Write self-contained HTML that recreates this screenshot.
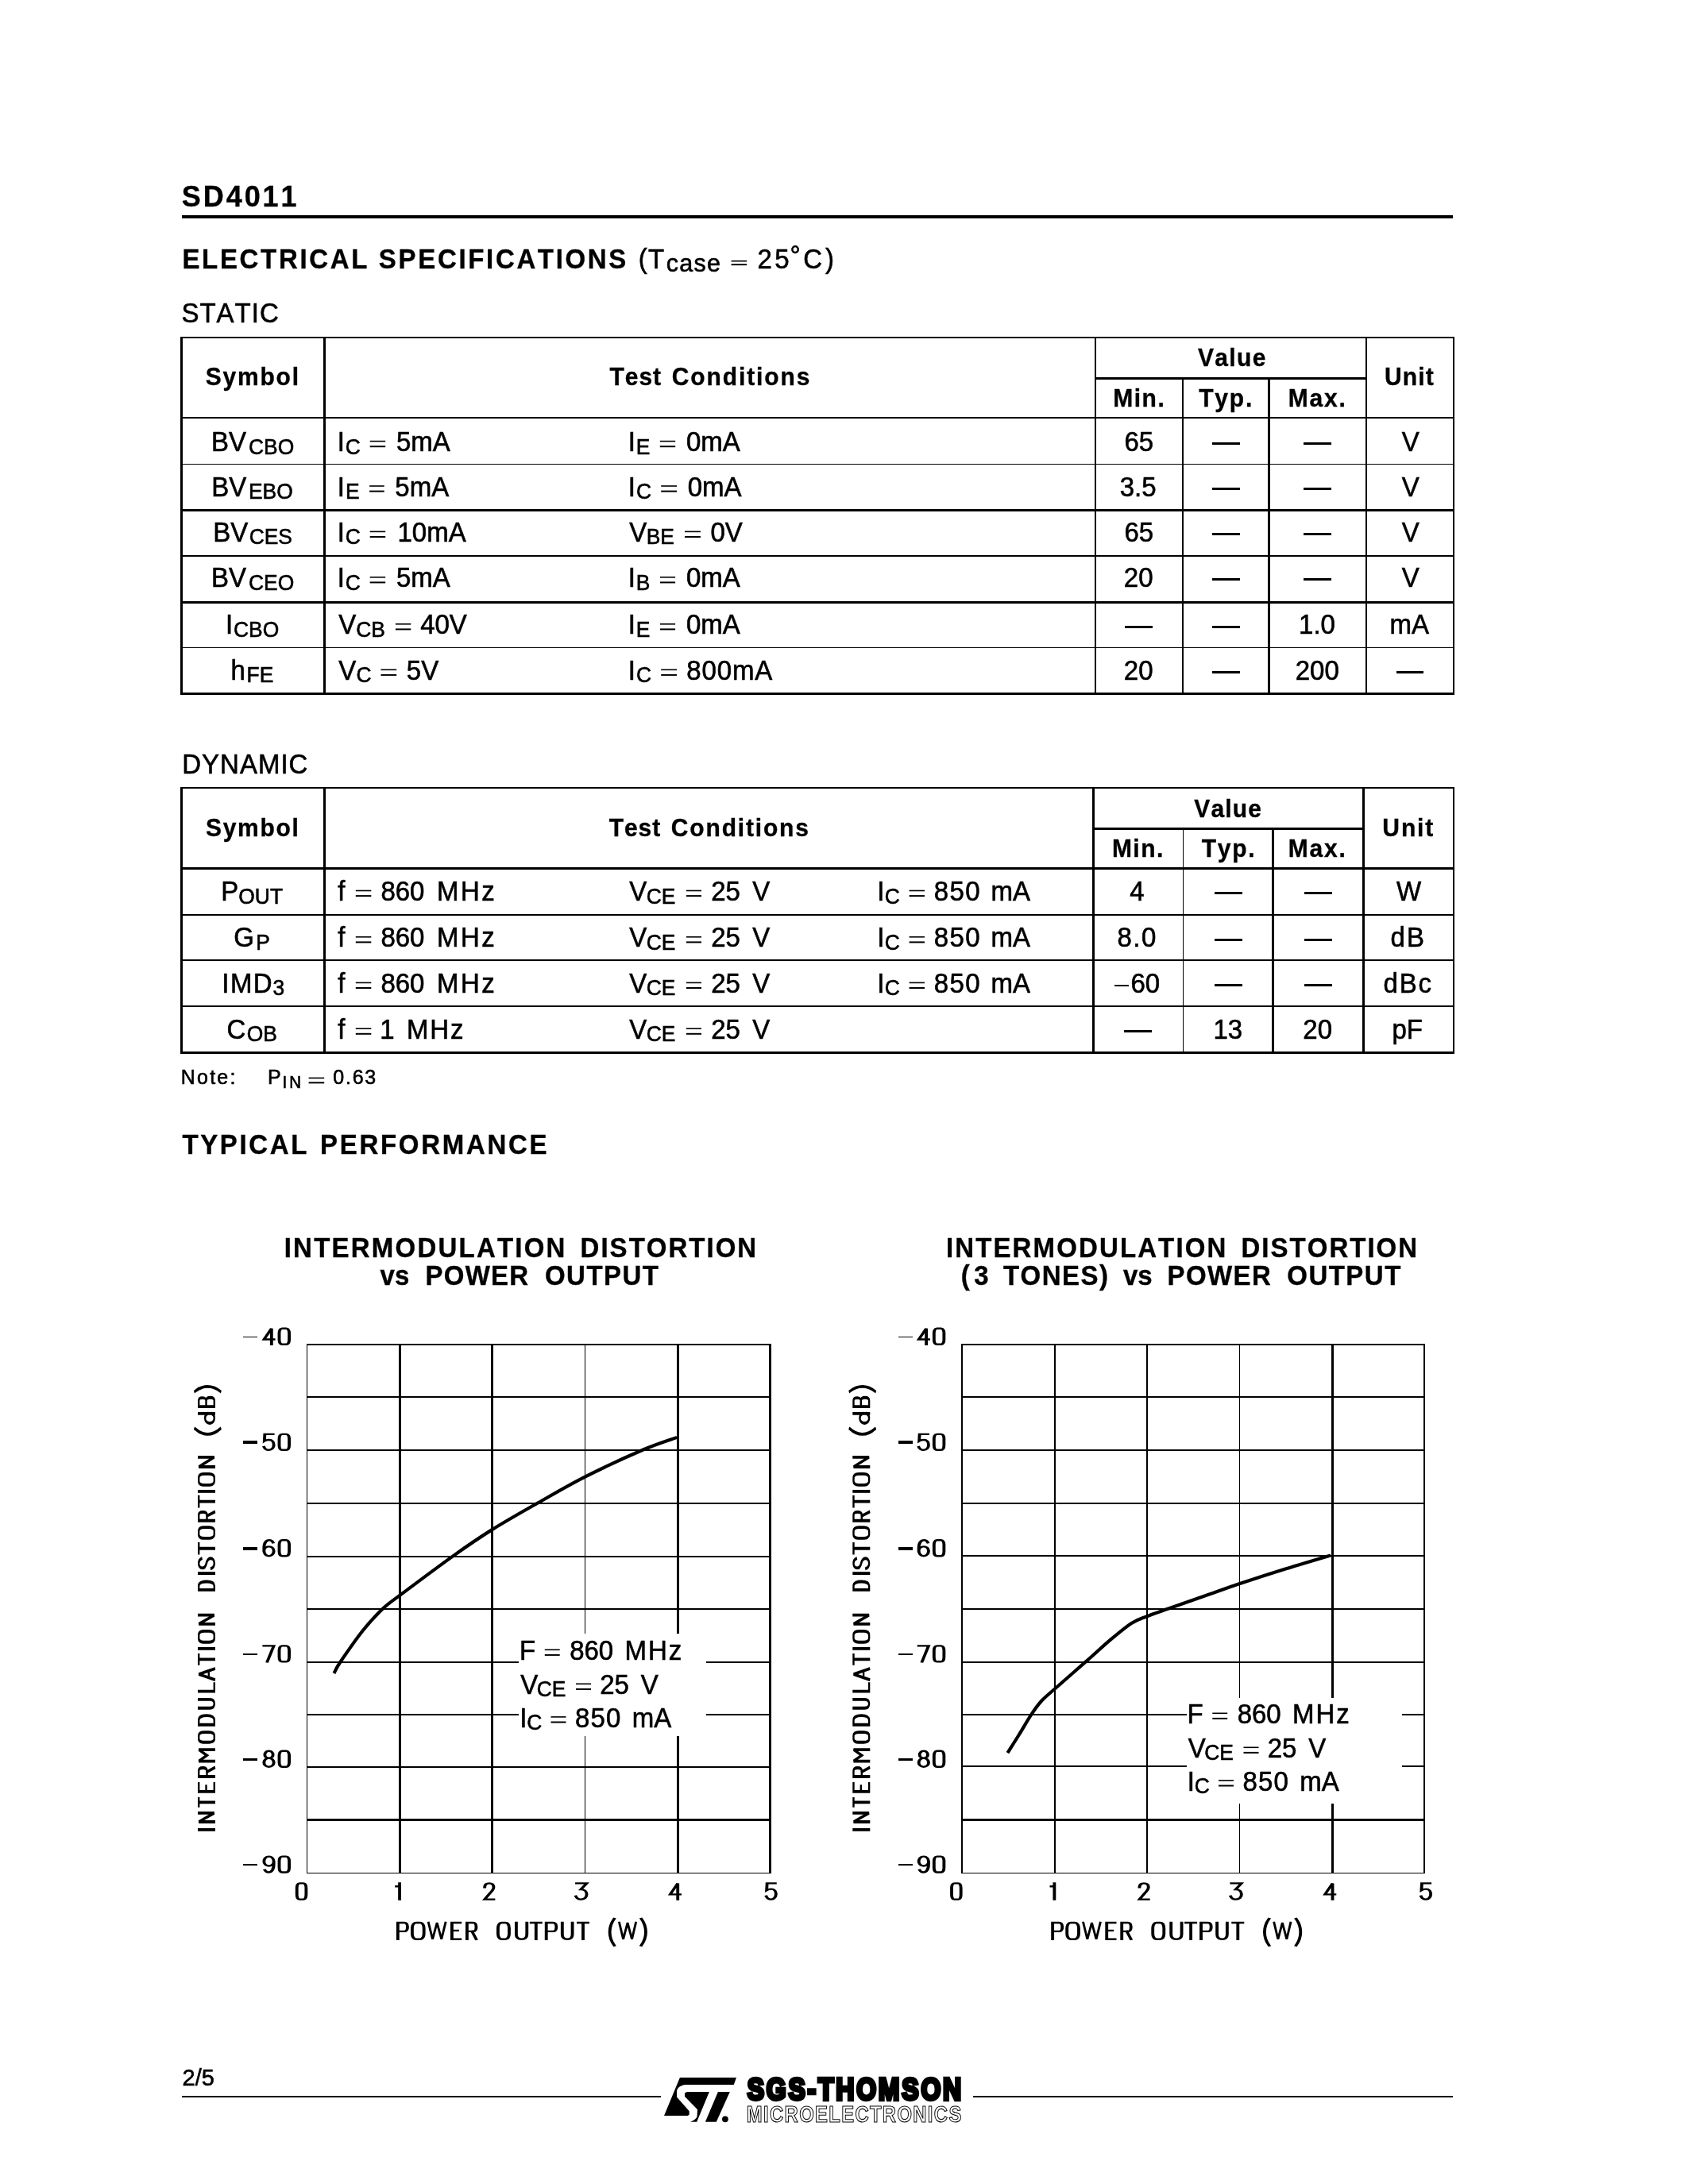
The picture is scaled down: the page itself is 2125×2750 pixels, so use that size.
<!DOCTYPE html>
<html><head><meta charset="utf-8"><title>SD4011</title>
<style>
html,body{margin:0;padding:0;background:#fff;}
svg{display:block;filter:grayscale(1);}
text{font-family:"Liberation Sans",sans-serif;fill:#000;font-kerning:none;white-space:pre;}
</style></head><body>
<svg width="2125" height="2750" viewBox="0 0 2125 2750">
<rect x="0" y="0" width="2125" height="2750" fill="#fff"/>
<text transform="translate(228.86,259.80) scale(1,1.0436)" font-size="36" font-weight="bold" letter-spacing="2.929" stroke="#000" stroke-width="0.35">SD4011</text>
<rect x="229.00" y="271.00" width="1600.00" height="4.00"/>
<text transform="translate(229.39,337.60) scale(1,1.0436)" font-size="33" font-weight="bold" letter-spacing="2.670" stroke="#000" stroke-width="0.35">ELECTRICAL SPECIFICATIONS</text>
<text transform="translate(803.85,337.60) scale(1,1.0436)" font-size="33" stroke="#000" stroke-width="0.6">(</text>
<text transform="translate(816.06,337.60) scale(1,1.0436)" font-size="33" stroke="#000" stroke-width="0.6">T</text>
<text transform="translate(838.80,341.60) scale(1,1.0436)" font-size="30.5" letter-spacing="1.242" stroke="#000" stroke-width="0.6">case</text>
<rect x="920.60" y="327.90" width="19.60" height="1.60"/>
<rect x="920.60" y="332.25" width="19.60" height="1.90"/>
<text transform="translate(953.54,337.60) scale(1,1.0436)" font-size="33" letter-spacing="3.239" stroke="#000" stroke-width="0.6">25</text>
<text transform="translate(994.43,334.20) scale(1,1.0436)" font-size="33" stroke="#000" stroke-width="0.6">°</text>
<text transform="translate(1011.32,337.60) scale(1,1.0436)" font-size="33" letter-spacing="3.801" stroke="#000" stroke-width="0.6">C)</text>
<text transform="translate(228.40,405.60) scale(1,1.0436)" font-size="33" letter-spacing="1.004" stroke="#000" stroke-width="0.6">STATIC</text>
<rect x="227.00" y="424.00" width="1604.00" height="2.00"/>
<rect x="227.00" y="525.00" width="1604.00" height="2.00"/>
<rect x="1378.00" y="475.00" width="343.00" height="3.00"/>
<rect x="227.00" y="584.00" width="1604.00" height="1.00"/>
<rect x="227.00" y="641.00" width="1604.00" height="3.00"/>
<rect x="227.00" y="699.00" width="1604.00" height="2.00"/>
<rect x="227.00" y="757.00" width="1604.00" height="3.00"/>
<rect x="227.00" y="815.00" width="1604.00" height="1.00"/>
<rect x="227.00" y="872.00" width="1604.00" height="3.00"/>
<rect x="227.00" y="424.00" width="3.00" height="451.00"/>
<rect x="407.00" y="424.00" width="3.00" height="451.00"/>
<rect x="1378.00" y="424.00" width="2.00" height="451.00"/>
<rect x="1488.00" y="475.00" width="2.00" height="400.00"/>
<rect x="1596.00" y="475.00" width="3.00" height="400.00"/>
<rect x="1719.00" y="424.00" width="2.00" height="451.00"/>
<rect x="1829.00" y="424.00" width="2.00" height="451.00"/>
<text transform="translate(258.84,485.10) scale(1,1.0436)" font-size="30" font-weight="bold" letter-spacing="1.767" stroke="#000" stroke-width="0.35">Symbol</text>
<text transform="translate(767.46,485.20) scale(1,1.0436)" font-size="30" font-weight="bold" letter-spacing="0.973" stroke="#000" stroke-width="0.35">Test</text>
<text transform="translate(845.67,485.20) scale(1,1.0436)" font-size="30" font-weight="bold" letter-spacing="1.914" stroke="#000" stroke-width="0.35">Conditions</text>
<text transform="translate(1507.99,460.60) scale(1,1.0436)" font-size="30" font-weight="bold" letter-spacing="1.323" stroke="#000" stroke-width="0.35">Value</text>
<text transform="translate(1401.29,511.50) scale(1,1.0436)" font-size="30" font-weight="bold" letter-spacing="1.496" stroke="#000" stroke-width="0.35">Min.</text>
<text transform="translate(1509.26,511.50) scale(1,1.0436)" font-size="30" font-weight="bold" letter-spacing="1.777" stroke="#000" stroke-width="0.35">Typ.</text>
<text transform="translate(1621.79,511.50) scale(1,1.0436)" font-size="30" font-weight="bold" letter-spacing="1.793" stroke="#000" stroke-width="0.35">Max.</text>
<text transform="translate(1743.00,484.60) scale(1,1.0436)" font-size="30" font-weight="bold" letter-spacing="1.151" stroke="#000" stroke-width="0.35">Unit</text>
<text transform="translate(266.01,568.20) scale(1,1.0436)" font-size="33" stroke="#000" stroke-width="0.6">BV</text>
<text transform="translate(313.01,571.60) scale(1,1.0436)" font-size="26.4" stroke="#000" stroke-width="0.6">CBO</text>
<text transform="translate(266.36,624.60) scale(1,1.0436)" font-size="33" stroke="#000" stroke-width="0.6">BV</text>
<text transform="translate(312.97,628.00) scale(1,1.0436)" font-size="26.4" stroke="#000" stroke-width="0.6">EBO</text>
<text transform="translate(268.36,682.00) scale(1,1.0436)" font-size="33" stroke="#000" stroke-width="0.6">BV</text>
<text transform="translate(313.69,685.40) scale(1,1.0436)" font-size="26.4" stroke="#000" stroke-width="0.6">CES</text>
<text transform="translate(266.01,739.40) scale(1,1.0436)" font-size="33" stroke="#000" stroke-width="0.6">BV</text>
<text transform="translate(313.01,742.80) scale(1,1.0436)" font-size="26.4" stroke="#000" stroke-width="0.6">CEO</text>
<text transform="translate(283.95,798.40) scale(1,1.0436)" font-size="33" stroke="#000" stroke-width="0.6">I</text>
<text transform="translate(294.01,801.80) scale(1,1.0436)" font-size="26.4" stroke="#000" stroke-width="0.6">CBO</text>
<text transform="translate(290.61,855.90) scale(1,1.0436)" font-size="33" stroke="#000" stroke-width="0.6">h</text>
<text transform="translate(310.62,859.30) scale(1,1.0436)" font-size="26.4" stroke="#000" stroke-width="0.6">FE</text>
<text transform="translate(424.75,568.20) scale(1,1.0436)" font-size="33" stroke="#000" stroke-width="0.6">I</text>
<text transform="translate(434.85,571.60) scale(1,1.0436)" font-size="26.4" stroke="#000" stroke-width="0.6">C</text>
<rect x="465.70" y="554.80" width="19.50" height="1.60"/>
<rect x="465.70" y="561.20" width="19.50" height="2.00"/>
<text transform="translate(499.00,568.20) scale(1,1.0436)" font-size="33" stroke="#000" stroke-width="0.6">5mA</text>
<text transform="translate(424.75,624.60) scale(1,1.0436)" font-size="33" stroke="#000" stroke-width="0.6">I</text>
<text transform="translate(434.88,628.00) scale(1,1.0436)" font-size="26.4" stroke="#000" stroke-width="0.6">E</text>
<rect x="465.10" y="611.20" width="18.60" height="1.60"/>
<rect x="465.10" y="617.60" width="18.60" height="2.00"/>
<text transform="translate(497.35,624.60) scale(1,1.0436)" font-size="33" stroke="#000" stroke-width="0.6">5mA</text>
<text transform="translate(424.75,682.00) scale(1,1.0436)" font-size="33" stroke="#000" stroke-width="0.6">I</text>
<text transform="translate(434.85,685.40) scale(1,1.0436)" font-size="26.4" stroke="#000" stroke-width="0.6">C</text>
<rect x="465.70" y="668.60" width="19.50" height="1.60"/>
<rect x="465.70" y="675.00" width="19.50" height="2.00"/>
<text transform="translate(500.52,682.00) scale(1,1.0436)" font-size="33" stroke="#000" stroke-width="0.6">10mA</text>
<text transform="translate(424.75,739.40) scale(1,1.0436)" font-size="33" stroke="#000" stroke-width="0.6">I</text>
<text transform="translate(434.85,742.80) scale(1,1.0436)" font-size="26.4" stroke="#000" stroke-width="0.6">C</text>
<rect x="465.70" y="726.00" width="19.50" height="1.60"/>
<rect x="465.70" y="732.40" width="19.50" height="2.00"/>
<text transform="translate(499.00,739.40) scale(1,1.0436)" font-size="33" stroke="#000" stroke-width="0.6">5mA</text>
<text transform="translate(426.35,798.40) scale(1,1.0436)" font-size="33" stroke="#000" stroke-width="0.6">V</text>
<text transform="translate(448.24,801.80) scale(1,1.0436)" font-size="26.4" stroke="#000" stroke-width="0.6">CB</text>
<rect x="497.90" y="785.00" width="19.40" height="1.60"/>
<rect x="497.90" y="791.40" width="19.40" height="2.00"/>
<text transform="translate(529.14,798.40) scale(1,1.0436)" font-size="33" stroke="#000" stroke-width="0.6">40V</text>
<text transform="translate(426.35,855.90) scale(1,1.0436)" font-size="33" stroke="#000" stroke-width="0.6">V</text>
<text transform="translate(448.40,859.30) scale(1,1.0436)" font-size="26.4" stroke="#000" stroke-width="0.6">C</text>
<rect x="479.50" y="842.50" width="19.70" height="1.60"/>
<rect x="479.50" y="848.90" width="19.70" height="2.00"/>
<text transform="translate(511.78,855.90) scale(1,1.0436)" font-size="33" stroke="#000" stroke-width="0.6">5V</text>
<text transform="translate(790.85,568.20) scale(1,1.0436)" font-size="33" stroke="#000" stroke-width="0.6">I</text>
<text transform="translate(800.63,571.60) scale(1,1.0436)" font-size="26.4" stroke="#000" stroke-width="0.6">E</text>
<rect x="830.80" y="554.80" width="19.40" height="1.60"/>
<rect x="830.80" y="561.20" width="19.40" height="2.00"/>
<text transform="translate(863.96,568.20) scale(1,1.0436)" font-size="33" stroke="#000" stroke-width="0.6">0mA</text>
<text transform="translate(790.85,624.60) scale(1,1.0436)" font-size="33" stroke="#000" stroke-width="0.6">I</text>
<text transform="translate(800.95,628.00) scale(1,1.0436)" font-size="26.4" stroke="#000" stroke-width="0.6">C</text>
<rect x="832.20" y="611.20" width="19.90" height="1.60"/>
<rect x="832.20" y="617.60" width="19.90" height="2.00"/>
<text transform="translate(865.76,624.60) scale(1,1.0436)" font-size="33" stroke="#000" stroke-width="0.6">0mA</text>
<text transform="translate(792.25,682.00) scale(1,1.0436)" font-size="33" stroke="#000" stroke-width="0.6">V</text>
<text transform="translate(813.63,685.40) scale(1,1.0436)" font-size="26.4" stroke="#000" stroke-width="0.6">BE</text>
<rect x="862.00" y="668.60" width="19.90" height="1.60"/>
<rect x="862.00" y="675.00" width="19.90" height="2.00"/>
<text transform="translate(894.50,682.00) scale(1,1.0436)" font-size="33" stroke="#000" stroke-width="0.6">0V</text>
<text transform="translate(790.85,739.40) scale(1,1.0436)" font-size="33" stroke="#000" stroke-width="0.6">I</text>
<text transform="translate(800.81,742.80) scale(1,1.0436)" font-size="26.4" stroke="#000" stroke-width="0.6">B</text>
<rect x="830.90" y="726.00" width="19.20" height="1.60"/>
<rect x="830.90" y="732.40" width="19.20" height="2.00"/>
<text transform="translate(863.91,739.40) scale(1,1.0436)" font-size="33" stroke="#000" stroke-width="0.6">0mA</text>
<text transform="translate(790.85,798.40) scale(1,1.0436)" font-size="33" stroke="#000" stroke-width="0.6">I</text>
<text transform="translate(800.63,801.80) scale(1,1.0436)" font-size="26.4" stroke="#000" stroke-width="0.6">E</text>
<rect x="830.90" y="785.00" width="19.20" height="1.60"/>
<rect x="830.90" y="791.40" width="19.20" height="2.00"/>
<text transform="translate(863.91,798.40) scale(1,1.0436)" font-size="33" stroke="#000" stroke-width="0.6">0mA</text>
<text transform="translate(790.85,855.90) scale(1,1.0436)" font-size="33" stroke="#000" stroke-width="0.6">I</text>
<text transform="translate(800.95,859.30) scale(1,1.0436)" font-size="26.4" stroke="#000" stroke-width="0.6">C</text>
<rect x="832.20" y="842.50" width="19.90" height="1.60"/>
<rect x="832.20" y="848.90" width="19.90" height="2.00"/>
<text transform="translate(864.27,855.90) scale(1,1.0436)" font-size="33" letter-spacing="0.885" stroke="#000" stroke-width="0.6">800mA</text>
<text transform="translate(1415.40,568.20) scale(1,1.0436)" font-size="33" stroke="#000" stroke-width="0.6">65</text>
<rect x="1526.00" y="557.00" width="35.00" height="3.00"/>
<rect x="1641.00" y="557.00" width="35.00" height="3.00"/>
<text transform="translate(1764.84,568.20) scale(1,1.0436)" font-size="33" stroke="#000" stroke-width="0.6">V</text>
<text transform="translate(1409.73,624.60) scale(1,1.0436)" font-size="33" stroke="#000" stroke-width="0.6">3.5</text>
<rect x="1526.00" y="614.00" width="35.00" height="3.00"/>
<rect x="1641.00" y="614.00" width="35.00" height="3.00"/>
<text transform="translate(1764.84,624.60) scale(1,1.0436)" font-size="33" stroke="#000" stroke-width="0.6">V</text>
<text transform="translate(1415.40,682.00) scale(1,1.0436)" font-size="33" stroke="#000" stroke-width="0.6">65</text>
<rect x="1526.00" y="671.00" width="35.00" height="3.00"/>
<rect x="1641.00" y="671.00" width="35.00" height="3.00"/>
<text transform="translate(1764.84,682.00) scale(1,1.0436)" font-size="33" stroke="#000" stroke-width="0.6">V</text>
<text transform="translate(1414.81,739.40) scale(1,1.0436)" font-size="33" stroke="#000" stroke-width="0.6">20</text>
<rect x="1526.00" y="728.00" width="35.00" height="3.00"/>
<rect x="1641.00" y="728.00" width="35.00" height="3.00"/>
<text transform="translate(1764.84,739.40) scale(1,1.0436)" font-size="33" stroke="#000" stroke-width="0.6">V</text>
<rect x="1416.00" y="788.00" width="35.00" height="3.00"/>
<rect x="1526.00" y="788.00" width="35.00" height="3.00"/>
<text transform="translate(1635.05,798.40) scale(1,1.0436)" font-size="33" stroke="#000" stroke-width="0.6">1.0</text>
<text transform="translate(1749.49,798.40) scale(1,1.0436)" font-size="33" stroke="#000" stroke-width="0.6">mA</text>
<text transform="translate(1414.81,855.90) scale(1,1.0436)" font-size="33" stroke="#000" stroke-width="0.6">20</text>
<rect x="1526.00" y="845.00" width="35.00" height="3.00"/>
<text transform="translate(1630.74,855.90) scale(1,1.0436)" font-size="33" stroke="#000" stroke-width="0.6">200</text>
<rect x="1758.00" y="845.00" width="34.00" height="3.00"/>
<text transform="translate(229.19,974.00) scale(1,1.0436)" font-size="33" letter-spacing="1.015" stroke="#000" stroke-width="0.6">DYNAMIC</text>
<rect x="227.00" y="991.00" width="1604.00" height="2.00"/>
<rect x="227.00" y="1092.00" width="1604.00" height="3.00"/>
<rect x="1375.00" y="1042.00" width="343.00" height="3.00"/>
<rect x="227.00" y="1151.00" width="1604.00" height="2.00"/>
<rect x="227.00" y="1208.00" width="1604.00" height="2.00"/>
<rect x="227.00" y="1266.00" width="1604.00" height="2.00"/>
<rect x="227.00" y="1324.00" width="1604.00" height="3.00"/>
<rect x="227.00" y="991.00" width="3.00" height="336.00"/>
<rect x="407.00" y="991.00" width="3.00" height="336.00"/>
<rect x="1375.00" y="991.00" width="3.00" height="336.00"/>
<rect x="1489.00" y="1042.00" width="1.00" height="285.00"/>
<rect x="1601.00" y="1042.00" width="3.00" height="285.00"/>
<rect x="1715.00" y="991.00" width="3.00" height="336.00"/>
<rect x="1829.00" y="991.00" width="2.00" height="336.00"/>
<text transform="translate(258.94,1053.00) scale(1,1.0436)" font-size="30" font-weight="bold" letter-spacing="1.727" stroke="#000" stroke-width="0.35">Symbol</text>
<text transform="translate(766.66,1052.60) scale(1,1.0436)" font-size="30" font-weight="bold" letter-spacing="0.973" stroke="#000" stroke-width="0.35">Test</text>
<text transform="translate(844.87,1052.60) scale(1,1.0436)" font-size="30" font-weight="bold" letter-spacing="1.825" stroke="#000" stroke-width="0.35">Conditions</text>
<text transform="translate(1503.29,1028.70) scale(1,1.0436)" font-size="30" font-weight="bold" letter-spacing="1.123" stroke="#000" stroke-width="0.35">Value</text>
<text transform="translate(1399.89,1079.40) scale(1,1.0436)" font-size="30" font-weight="bold" letter-spacing="1.496" stroke="#000" stroke-width="0.35">Min.</text>
<text transform="translate(1512.66,1079.40) scale(1,1.0436)" font-size="30" font-weight="bold" letter-spacing="1.777" stroke="#000" stroke-width="0.35">Typ.</text>
<text transform="translate(1621.79,1079.40) scale(1,1.0436)" font-size="30" font-weight="bold" letter-spacing="1.793" stroke="#000" stroke-width="0.35">Max.</text>
<text transform="translate(1740.30,1053.00) scale(1,1.0436)" font-size="30" font-weight="bold" letter-spacing="1.918" stroke="#000" stroke-width="0.35">Unit</text>
<text transform="translate(278.29,1134.10) scale(1,1.0436)" font-size="33" stroke="#000" stroke-width="0.6">P</text>
<text transform="translate(300.31,1137.50) scale(1,1.0436)" font-size="26.4" stroke="#000" stroke-width="0.6">OUT</text>
<text transform="translate(294.34,1192.40) scale(1,1.0436)" font-size="33" stroke="#000" stroke-width="0.6">G</text>
<text transform="translate(322.31,1195.80) scale(1,1.0436)" font-size="26.4" stroke="#000" stroke-width="0.6">P</text>
<text transform="translate(279.35,1250.00) scale(1,1.0436)" font-size="33" letter-spacing="1.418" stroke="#000" stroke-width="0.6">IMD</text>
<text transform="translate(343.54,1253.40) scale(1,1.0436)" font-size="26.4" stroke="#000" stroke-width="0.6">3</text>
<text transform="translate(285.42,1307.80) scale(1,1.0436)" font-size="33" stroke="#000" stroke-width="0.6">C</text>
<text transform="translate(310.75,1311.20) scale(1,1.0436)" font-size="26.4" stroke="#000" stroke-width="0.6">OB</text>
<text transform="translate(425.23,1134.10) scale(1,1.0436)" font-size="33" stroke="#000" stroke-width="0.6">f</text>
<rect x="447.80" y="1120.70" width="19.50" height="1.60"/>
<rect x="447.80" y="1127.10" width="19.50" height="2.00"/>
<text transform="translate(479.40,1134.10) scale(1,1.0436)" font-size="33" stroke="#000" stroke-width="0.6">860</text>
<text transform="translate(550.09,1134.10) scale(1,1.0436)" font-size="33" letter-spacing="2.365" stroke="#000" stroke-width="0.6">MHz</text>
<text transform="translate(425.23,1192.40) scale(1,1.0436)" font-size="33" stroke="#000" stroke-width="0.6">f</text>
<rect x="447.80" y="1179.00" width="19.50" height="1.60"/>
<rect x="447.80" y="1185.40" width="19.50" height="2.00"/>
<text transform="translate(479.40,1192.40) scale(1,1.0436)" font-size="33" stroke="#000" stroke-width="0.6">860</text>
<text transform="translate(550.09,1192.40) scale(1,1.0436)" font-size="33" letter-spacing="2.365" stroke="#000" stroke-width="0.6">MHz</text>
<text transform="translate(425.23,1250.00) scale(1,1.0436)" font-size="33" stroke="#000" stroke-width="0.6">f</text>
<rect x="447.80" y="1236.60" width="19.50" height="1.60"/>
<rect x="447.80" y="1243.00" width="19.50" height="2.00"/>
<text transform="translate(479.40,1250.00) scale(1,1.0436)" font-size="33" stroke="#000" stroke-width="0.6">860</text>
<text transform="translate(550.09,1250.00) scale(1,1.0436)" font-size="33" letter-spacing="2.365" stroke="#000" stroke-width="0.6">MHz</text>
<text transform="translate(425.23,1307.80) scale(1,1.0436)" font-size="33" stroke="#000" stroke-width="0.6">f</text>
<rect x="447.80" y="1294.40" width="19.50" height="1.60"/>
<rect x="447.80" y="1300.80" width="19.50" height="2.00"/>
<text transform="translate(478.27,1307.80) scale(1,1.0436)" font-size="33" stroke="#000" stroke-width="0.6">1</text>
<text transform="translate(511.89,1307.80) scale(1,1.0436)" font-size="33" letter-spacing="1.865" stroke="#000" stroke-width="0.6">MHz</text>
<text transform="translate(792.15,1134.10) scale(1,1.0436)" font-size="33" stroke="#000" stroke-width="0.6">V</text>
<text transform="translate(813.76,1137.50) scale(1,1.0436)" font-size="26.4" stroke="#000" stroke-width="0.6">CE</text>
<rect x="863.90" y="1120.70" width="19.10" height="1.60"/>
<rect x="863.90" y="1127.10" width="19.10" height="2.00"/>
<text transform="translate(895.21,1134.10) scale(1,1.0436)" font-size="33" stroke="#000" stroke-width="0.6">25</text>
<text transform="translate(947.15,1134.10) scale(1,1.0436)" font-size="33" stroke="#000" stroke-width="0.6">V</text>
<text transform="translate(792.15,1192.40) scale(1,1.0436)" font-size="33" stroke="#000" stroke-width="0.6">V</text>
<text transform="translate(813.76,1195.80) scale(1,1.0436)" font-size="26.4" stroke="#000" stroke-width="0.6">CE</text>
<rect x="863.90" y="1179.00" width="19.10" height="1.60"/>
<rect x="863.90" y="1185.40" width="19.10" height="2.00"/>
<text transform="translate(895.21,1192.40) scale(1,1.0436)" font-size="33" stroke="#000" stroke-width="0.6">25</text>
<text transform="translate(947.15,1192.40) scale(1,1.0436)" font-size="33" stroke="#000" stroke-width="0.6">V</text>
<text transform="translate(792.15,1250.00) scale(1,1.0436)" font-size="33" stroke="#000" stroke-width="0.6">V</text>
<text transform="translate(813.76,1253.40) scale(1,1.0436)" font-size="26.4" stroke="#000" stroke-width="0.6">CE</text>
<rect x="863.90" y="1236.60" width="19.10" height="1.60"/>
<rect x="863.90" y="1243.00" width="19.10" height="2.00"/>
<text transform="translate(895.21,1250.00) scale(1,1.0436)" font-size="33" stroke="#000" stroke-width="0.6">25</text>
<text transform="translate(947.15,1250.00) scale(1,1.0436)" font-size="33" stroke="#000" stroke-width="0.6">V</text>
<text transform="translate(792.15,1307.80) scale(1,1.0436)" font-size="33" stroke="#000" stroke-width="0.6">V</text>
<text transform="translate(813.76,1311.20) scale(1,1.0436)" font-size="26.4" stroke="#000" stroke-width="0.6">CE</text>
<rect x="863.90" y="1294.40" width="19.10" height="1.60"/>
<rect x="863.90" y="1300.80" width="19.10" height="2.00"/>
<text transform="translate(895.21,1307.80) scale(1,1.0436)" font-size="33" stroke="#000" stroke-width="0.6">25</text>
<text transform="translate(947.15,1307.80) scale(1,1.0436)" font-size="33" stroke="#000" stroke-width="0.6">V</text>
<text transform="translate(1104.25,1134.10) scale(1,1.0436)" font-size="33" stroke="#000" stroke-width="0.6">I</text>
<text transform="translate(1113.86,1137.50) scale(1,1.0436)" font-size="26.4" stroke="#000" stroke-width="0.6">C</text>
<rect x="1144.60" y="1120.70" width="19.40" height="1.60"/>
<rect x="1144.60" y="1127.10" width="19.40" height="2.00"/>
<text transform="translate(1175.87,1134.10) scale(1,1.0436)" font-size="33" letter-spacing="1.332" stroke="#000" stroke-width="0.6">850</text>
<text transform="translate(1247.49,1134.10) scale(1,1.0436)" font-size="33" stroke="#000" stroke-width="0.6">mA</text>
<text transform="translate(1104.25,1192.40) scale(1,1.0436)" font-size="33" stroke="#000" stroke-width="0.6">I</text>
<text transform="translate(1113.86,1195.80) scale(1,1.0436)" font-size="26.4" stroke="#000" stroke-width="0.6">C</text>
<rect x="1144.60" y="1179.00" width="19.40" height="1.60"/>
<rect x="1144.60" y="1185.40" width="19.40" height="2.00"/>
<text transform="translate(1175.87,1192.40) scale(1,1.0436)" font-size="33" letter-spacing="1.332" stroke="#000" stroke-width="0.6">850</text>
<text transform="translate(1247.49,1192.40) scale(1,1.0436)" font-size="33" stroke="#000" stroke-width="0.6">mA</text>
<text transform="translate(1104.25,1250.00) scale(1,1.0436)" font-size="33" stroke="#000" stroke-width="0.6">I</text>
<text transform="translate(1113.86,1253.40) scale(1,1.0436)" font-size="26.4" stroke="#000" stroke-width="0.6">C</text>
<rect x="1144.60" y="1236.60" width="19.40" height="1.60"/>
<rect x="1144.60" y="1243.00" width="19.40" height="2.00"/>
<text transform="translate(1175.87,1250.00) scale(1,1.0436)" font-size="33" letter-spacing="1.332" stroke="#000" stroke-width="0.6">850</text>
<text transform="translate(1247.49,1250.00) scale(1,1.0436)" font-size="33" stroke="#000" stroke-width="0.6">mA</text>
<text transform="translate(1422.18,1134.10) scale(1,1.0436)" font-size="33" stroke="#000" stroke-width="0.6">4</text>
<rect x="1529.00" y="1123.00" width="35.00" height="3.00"/>
<rect x="1642.00" y="1123.00" width="35.00" height="3.00"/>
<text transform="translate(1758.11,1134.10) scale(1,1.0436)" font-size="33" stroke="#000" stroke-width="0.6">W</text>
<text transform="translate(1406.57,1192.40) scale(1,1.0436)" font-size="33" letter-spacing="1.424" stroke="#000" stroke-width="0.6">8.0</text>
<rect x="1529.00" y="1182.00" width="35.00" height="3.00"/>
<rect x="1642.00" y="1182.00" width="35.00" height="3.00"/>
<text transform="translate(1750.51,1192.40) scale(1,1.0436)" font-size="33" letter-spacing="2.262" stroke="#000" stroke-width="0.6">dB</text>
<rect x="1403.00" y="1240.00" width="18.00" height="2.00"/>
<text transform="translate(1423.40,1250.00) scale(1,1.0436)" font-size="33" stroke="#000" stroke-width="0.6">60</text>
<rect x="1529.00" y="1239.00" width="35.00" height="3.00"/>
<rect x="1642.00" y="1239.00" width="35.00" height="3.00"/>
<text transform="translate(1741.51,1250.00) scale(1,1.0436)" font-size="33" letter-spacing="1.846" stroke="#000" stroke-width="0.6">dBc</text>
<rect x="1415.00" y="1297.00" width="35.00" height="3.00"/>
<text transform="translate(1527.52,1307.80) scale(1,1.0436)" font-size="33" stroke="#000" stroke-width="0.6">13</text>
<text transform="translate(1640.31,1307.80) scale(1,1.0436)" font-size="33" stroke="#000" stroke-width="0.6">20</text>
<text transform="translate(1752.39,1307.80) scale(1,1.0436)" font-size="33" stroke="#000" stroke-width="0.6">pF</text>
<text transform="translate(227.75,1364.90) scale(1,1.0436)" font-size="25" letter-spacing="2.220" stroke="#000" stroke-width="0.6">Note:</text>
<text transform="translate(336.90,1364.90) scale(1,1.0436)" font-size="25" stroke="#000" stroke-width="0.6">P</text>
<text transform="translate(355.61,1370.40) scale(1,1.0436)" font-size="20.5" letter-spacing="2.963" stroke="#000" stroke-width="0.6">IN</text>
<rect x="388.60" y="1356.60" width="19.60" height="1.60"/>
<rect x="388.60" y="1362.30" width="19.60" height="2.00"/>
<text transform="translate(419.32,1364.90) scale(1,1.0436)" font-size="25" letter-spacing="1.739" stroke="#000" stroke-width="0.6">0.63</text>
<text transform="translate(229.43,1452.80) scale(1,1.0436)" font-size="33" font-weight="bold" letter-spacing="2.636" stroke="#000" stroke-width="0.35">TYPICAL</text>
<text transform="translate(402.99,1452.80) scale(1,1.0436)" font-size="33" font-weight="bold" letter-spacing="2.719" stroke="#000" stroke-width="0.35">PERFORMANCE</text>
<text transform="translate(357.69,1583.30) scale(1,1.0436)" font-size="33" font-weight="bold" letter-spacing="2.228" stroke="#000" stroke-width="0.35">INTERMODULATION</text>
<text transform="translate(730.59,1583.30) scale(1,1.0436)" font-size="33" font-weight="bold" letter-spacing="2.015" stroke="#000" stroke-width="0.35">DISTORTION</text>
<text transform="translate(478.56,1617.90) scale(1,1.0436)" font-size="33" font-weight="bold" stroke="#000" stroke-width="0.35">vs</text>
<text transform="translate(535.59,1617.90) scale(1,1.0436)" font-size="33" font-weight="bold" letter-spacing="1.229" stroke="#000" stroke-width="0.35">POWER</text>
<text transform="translate(685.95,1617.90) scale(1,1.0436)" font-size="33" font-weight="bold" letter-spacing="1.490" stroke="#000" stroke-width="0.35">OUTPUT</text>
<text transform="translate(1190.89,1583.30) scale(1,1.0436)" font-size="33" font-weight="bold" letter-spacing="2.135" stroke="#000" stroke-width="0.35">INTERMODULATION</text>
<text transform="translate(1562.49,1583.30) scale(1,1.0436)" font-size="33" font-weight="bold" letter-spacing="2.015" stroke="#000" stroke-width="0.35">DISTORTION</text>
<text transform="translate(1209.66,1617.90) scale(1,1.0436)" font-size="33" font-weight="bold" letter-spacing="5.694" stroke="#000" stroke-width="0.35">(3</text>
<text transform="translate(1262.93,1617.90) scale(1,1.0436)" font-size="33" font-weight="bold" letter-spacing="1.469" stroke="#000" stroke-width="0.35">TONES)</text>
<text transform="translate(1413.91,1617.90) scale(1,1.0436)" font-size="33" font-weight="bold" stroke="#000" stroke-width="0.35">vs</text>
<text transform="translate(1469.59,1617.90) scale(1,1.0436)" font-size="33" font-weight="bold" letter-spacing="1.404" stroke="#000" stroke-width="0.35">POWER</text>
<text transform="translate(1620.25,1617.90) scale(1,1.0436)" font-size="33" font-weight="bold" letter-spacing="1.490" stroke="#000" stroke-width="0.35">OUTPUT</text>
<rect x="386.00" y="1692.00" width="1.00" height="667.00"/>
<rect x="502.00" y="1692.00" width="3.00" height="667.00"/>
<rect x="618.00" y="1692.00" width="3.00" height="667.00"/>
<rect x="736.00" y="1692.00" width="1.00" height="667.00"/>
<rect x="852.00" y="1692.00" width="3.00" height="667.00"/>
<rect x="968.00" y="1692.00" width="3.00" height="667.00"/>
<rect x="386.00" y="1692.00" width="585.00" height="2.00"/>
<rect x="386.00" y="1758.00" width="585.00" height="2.00"/>
<rect x="386.00" y="1825.00" width="585.00" height="2.00"/>
<rect x="386.00" y="1892.00" width="585.00" height="2.00"/>
<rect x="386.00" y="1959.00" width="585.00" height="2.00"/>
<rect x="386.00" y="2025.00" width="585.00" height="2.00"/>
<rect x="386.00" y="2092.00" width="585.00" height="2.00"/>
<rect x="386.00" y="2158.00" width="585.00" height="2.00"/>
<rect x="386.00" y="2224.00" width="585.00" height="2.00"/>
<rect x="386.00" y="2290.00" width="585.00" height="3.00"/>
<rect x="386.00" y="2358.00" width="585.00" height="1.00"/>
<rect x="653.00" y="2057.00" width="236.00" height="129.00" fill="#fff"/>
<path d="M420.5,2107.0 C421.8,2104.6 422.3,2101.8 428.4,2092.8 C434.5,2083.8 447.9,2064.3 456.9,2053.0 C465.9,2041.7 474.8,2032.4 482.5,2025.1 C490.2,2017.8 488.5,2019.9 503.2,2008.9 C517.9,1997.9 551.3,1972.8 570.6,1959.1 C589.9,1945.3 601.5,1937.4 619.0,1926.4 C636.5,1915.4 656.2,1904.3 675.8,1893.2 C695.4,1882.1 714.1,1870.9 736.4,1859.6 C758.7,1848.3 790.2,1833.8 809.5,1825.5 C828.8,1817.2 845.0,1812.5 852.1,1809.9" fill="none" stroke="#000" stroke-width="4.2" stroke-linecap="butt" stroke-linejoin="round"/>
<rect x="306.00" y="1683.00" width="18.00" height="1.00"/>
<rect x="306.00" y="1814.00" width="18.00" height="4.00"/>
<rect x="306.00" y="1948.00" width="18.00" height="4.00"/>
<rect x="306.00" y="2082.00" width="18.00" height="2.00"/>
<rect x="306.00" y="2214.00" width="18.00" height="3.00"/>
<rect x="306.00" y="2347.00" width="18.00" height="2.00"/>
<g fill="none" stroke="#000" stroke-width="2.4" stroke-linecap="square" stroke-linejoin="miter"><path transform="translate(332.32,1672.80) scale(1.6,1)" d="M 5.94 19.90 L 5.94 0.00 L 0.00 13.74 L 7.73 13.74"/><path transform="translate(351.52,1672.80) scale(1.6,1)" d="M 2.29 0.00 L 5.56 0.00 C 7.20 0.00 7.85 2.84 7.85 5.69 L 7.85 14.21 C 7.85 17.06 7.20 19.90 5.56 19.90 L 2.29 19.90 C 0.65 19.90 0.00 17.06 0.00 14.21 L 0.00 5.69 C 0.00 2.84 0.65 0.00 2.29 0.00 Z"/><path transform="translate(332.32,1805.90) scale(1.6,1)" d="M 7.08 0.00 L 0.64 0.00 L 0.32 8.53 C 1.29 7.58 2.58 7.11 3.86 7.11 C 6.44 7.11 7.73 9.95 7.73 13.27 C 7.73 17.06 6.12 19.90 3.86 19.90 C 1.93 19.90 0.64 18.48 0.00 16.11"/><path transform="translate(351.52,1805.90) scale(1.6,1)" d="M 2.29 0.00 L 5.56 0.00 C 7.20 0.00 7.85 2.84 7.85 5.69 L 7.85 14.21 C 7.85 17.06 7.20 19.90 5.56 19.90 L 2.29 19.90 C 0.65 19.90 0.00 17.06 0.00 14.21 L 0.00 5.69 C 0.00 2.84 0.65 0.00 2.29 0.00 Z"/><path transform="translate(332.32,1939.30) scale(1.6,1)" d="M 7.08 2.84 C 6.44 0.95 5.15 0.00 4.18 0.00 C 1.61 0.00 0.00 3.79 0.00 10.42 L 0.00 13.27 C 0.00 17.06 1.61 19.90 3.86 19.90 C 6.12 19.90 7.73 17.06 7.73 13.74 C 7.73 10.42 6.12 8.05 3.86 8.05 C 1.61 8.05 0.00 10.42 0.00 13.27"/><path transform="translate(351.52,1939.30) scale(1.6,1)" d="M 2.29 0.00 L 5.56 0.00 C 7.20 0.00 7.85 2.84 7.85 5.69 L 7.85 14.21 C 7.85 17.06 7.20 19.90 5.56 19.90 L 2.29 19.90 C 0.65 19.90 0.00 17.06 0.00 14.21 L 0.00 5.69 C 0.00 2.84 0.65 0.00 2.29 0.00 Z"/><path transform="translate(332.32,2072.40) scale(1.6,1)" d="M 0.00 0.00 L 7.73 0.00 L 2.58 19.90"/><path transform="translate(351.52,2072.40) scale(1.6,1)" d="M 2.29 0.00 L 5.56 0.00 C 7.20 0.00 7.85 2.84 7.85 5.69 L 7.85 14.21 C 7.85 17.06 7.20 19.90 5.56 19.90 L 2.29 19.90 C 0.65 19.90 0.00 17.06 0.00 14.21 L 0.00 5.69 C 0.00 2.84 0.65 0.00 2.29 0.00 Z"/><path transform="translate(332.32,2204.80) scale(1.6,1)" d="M 3.86 0.00 C 1.61 0.00 0.64 2.37 0.64 4.74 C 0.64 7.11 1.93 9.00 3.86 9.00 C 5.79 9.00 7.08 7.11 7.08 4.74 C 7.08 2.37 6.12 0.00 3.86 0.00 Z M 3.86 9.00 C 1.61 9.00 0.00 11.37 0.00 14.69 C 0.00 17.53 1.61 19.90 3.86 19.90 C 6.12 19.90 7.73 17.53 7.73 14.69 C 7.73 11.37 6.12 9.00 3.86 9.00 Z"/><path transform="translate(351.52,2204.80) scale(1.6,1)" d="M 2.29 0.00 L 5.56 0.00 C 7.20 0.00 7.85 2.84 7.85 5.69 L 7.85 14.21 C 7.85 17.06 7.20 19.90 5.56 19.90 L 2.29 19.90 C 0.65 19.90 0.00 17.06 0.00 14.21 L 0.00 5.69 C 0.00 2.84 0.65 0.00 2.29 0.00 Z"/><path transform="translate(332.32,2337.60) scale(1.6,1)" d="M 0.64 17.06 C 1.29 18.95 2.58 19.90 3.54 19.90 C 6.12 19.90 7.73 16.11 7.73 9.48 L 7.73 6.63 C 7.73 2.84 6.12 0.00 3.86 0.00 C 1.61 0.00 0.00 2.84 0.00 6.16 C 0.00 9.48 1.61 11.85 3.86 11.85 C 6.12 11.85 7.73 9.48 7.73 6.63"/><path transform="translate(351.52,2337.60) scale(1.6,1)" d="M 2.29 0.00 L 5.56 0.00 C 7.20 0.00 7.85 2.84 7.85 5.69 L 7.85 14.21 C 7.85 17.06 7.20 19.90 5.56 19.90 L 2.29 19.90 C 0.65 19.90 0.00 17.06 0.00 14.21 L 0.00 5.69 C 0.00 2.84 0.65 0.00 2.29 0.00 Z"/><path transform="translate(373.72,2371.40) scale(1.6,1)" d="M 2.13 0.00 L 5.16 0.00 C 6.68 0.00 7.29 2.89 7.29 5.77 L 7.29 14.43 C 7.29 17.31 6.68 20.20 5.16 20.20 L 2.13 20.20 C 0.61 20.20 0.00 17.31 0.00 14.43 L 0.00 5.77 C 0.00 2.89 0.61 0.00 2.13 0.00 Z"/><path transform="translate(499.12,2371.40) scale(1.6,1)" d="M 0.00 3.85 L 2.47 3.85 M 2.47 0.00 L 2.47 20.20"/><path transform="translate(610.12,2371.40) scale(1.6,1)" d="M 0.00 4.81 C 0.00 1.92 1.18 0.00 3.55 0.00 C 5.92 0.00 7.10 1.92 7.10 4.81 C 7.10 7.70 5.92 9.62 4.14 12.50 L 0.00 20.20 L 7.10 20.20"/><path transform="translate(724.92,2371.40) scale(1.6,1)" d="M 0.66 0.00 L 8.54 0.00 L 3.94 7.70 C 6.57 7.70 8.54 10.10 8.54 13.95 C 8.54 17.80 6.57 20.20 3.94 20.20 C 1.97 20.20 0.66 18.76 0.00 16.35"/><path transform="translate(843.72,2371.40) scale(1.6,1)" d="M 5.94 20.20 L 5.94 0.00 L 0.00 13.95 L 7.73 13.95"/><path transform="translate(964.62,2371.40) scale(1.6,1)" d="M 7.02 0.00 L 0.64 0.00 L 0.32 8.66 C 1.28 7.70 2.55 7.21 3.83 7.21 C 6.39 7.21 7.66 10.10 7.66 13.47 C 7.66 17.31 6.07 20.20 3.83 20.20 C 1.92 20.20 0.64 18.76 0.00 16.35"/><path transform="translate(500.82,2421.00) scale(1.6,1)" d="M 0.00 20.70 L 0.00 0.00 L 5.07 0.00 C 6.97 0.00 7.60 2.46 7.60 5.42 C 7.60 8.38 6.97 10.84 5.07 10.84 L 0.00 10.84"/><path transform="translate(518.92,2421.00) scale(1.6,1)" d="M 3.18 0.00 L 6.04 0.00 C 8.27 0.00 9.23 3.45 9.23 6.90 L 9.23 13.80 C 9.23 17.25 8.27 20.70 6.04 20.70 L 3.18 20.70 C 0.95 20.70 0.00 17.25 0.00 13.80 L 0.00 6.90 C 0.00 3.45 0.95 0.00 3.18 0.00 Z"/><path transform="translate(539.44,2421.00) scale(1.2,1)" d="M 0.00 0.00 L 4.25 20.70 L 8.92 0.00 L 13.60 20.70 L 17.85 0.00"/><path transform="translate(568.92,2421.00) scale(1.6,1)" d="M 6.48 0.00 L 0.00 0.00 L 0.00 20.70 L 6.48 20.70 M 0.00 9.86 L 4.41 9.86"/><path transform="translate(587.92,2421.00) scale(1.6,1)" d="M 0.00 20.70 L 0.00 0.00 L 4.82 0.00 C 6.62 0.00 7.23 2.46 7.23 5.42 C 7.23 8.38 6.62 10.84 4.82 10.84 L 0.00 10.84 M 3.91 10.84 L 7.23 20.70"/><path transform="translate(626.92,2421.00) scale(1.6,1)" d="M 3.03 0.00 L 5.76 0.00 C 7.88 0.00 8.79 3.45 8.79 6.90 L 8.79 13.80 C 8.79 17.25 7.88 20.70 5.76 20.70 L 3.03 20.70 C 0.91 20.70 0.00 17.25 0.00 13.80 L 0.00 6.90 C 0.00 3.45 0.91 0.00 3.03 0.00 Z"/><path transform="translate(649.92,2421.00) scale(1.6,1)" d="M 0.00 0.00 L 0.00 14.79 C 0.00 18.73 1.49 20.70 4.18 20.70 C 6.86 20.70 8.35 18.73 8.35 14.79 L 8.35 0.00"/><path transform="translate(668.72,2421.00) scale(1.6,1)" d="M 0.00 0.00 L 7.60 0.00 M 3.80 0.00 L 3.80 20.70"/><path transform="translate(687.72,2421.00) scale(1.6,1)" d="M 0.00 20.70 L 0.00 0.00 L 5.28 0.00 C 7.25 0.00 7.91 2.46 7.91 5.42 C 7.91 8.38 7.25 10.84 5.28 10.84 L 0.00 10.84"/><path transform="translate(707.82,2421.00) scale(1.6,1)" d="M 0.00 0.00 L 0.00 14.79 C 0.00 18.73 1.42 20.70 3.99 20.70 C 6.55 20.70 7.98 18.73 7.98 14.79 L 7.98 0.00"/><path transform="translate(727.92,2421.00) scale(1.6,1)" d="M 0.00 0.00 L 7.60 0.00 M 3.80 0.00 L 3.80 20.70"/><path transform="translate(767.62,2421.00) scale(1.6,1)" d="M 3.54 -4.93 C 1.06 0.49 0.00 5.91 0.00 11.83 C 0.00 17.74 1.06 23.16 3.54 28.59"/><path transform="translate(779.64,2421.00) scale(1.2,1)" d="M 0.00 0.00 L 4.13 20.70 L 8.67 0.00 L 13.22 20.70 L 17.35 0.00"/><path transform="translate(807.32,2421.00) scale(1.6,1)" d="M 0.00 -4.93 C 2.48 0.49 3.54 5.91 3.54 11.83 C 3.54 17.74 2.48 23.16 0.00 28.59"/></g>
<g transform="rotate(-90)" fill="none" stroke="#000" stroke-width="2.4" stroke-linecap="square" stroke-linejoin="miter"><path transform="translate(-2303.88,250.20) scale(1.6,1)" d="M 0.00 0.00 L 0.00 19.60"/><path transform="translate(-2293.98,250.20) scale(1.6,1)" d="M 0.00 19.60 L 0.00 0.00 L 6.97 19.60 L 6.97 0.00"/><path transform="translate(-2273.88,250.20) scale(1.6,1)" d="M 0.00 0.00 L 5.60 0.00 M 2.80 0.00 L 2.80 19.60"/><path transform="translate(-2255.88,250.20) scale(1.6,1)" d="M 6.23 0.00 L 0.00 0.00 L 0.00 19.60 L 6.23 19.60 M 0.00 9.33 L 4.24 9.33"/><path transform="translate(-2236.98,250.20) scale(1.6,1)" d="M 0.00 19.60 L 0.00 0.00 L 4.57 0.00 C 6.28 0.00 6.85 2.33 6.85 5.13 C 6.85 7.93 6.28 10.27 4.57 10.27 L 0.00 10.27 M 3.71 10.27 L 6.85 19.60"/><path transform="translate(-2217.58,250.20) scale(1.6,1)" d="M 0.00 19.60 L 0.00 0.00 L 4.52 10.27 L 9.04 0.00 L 9.04 19.60"/><path transform="translate(-2193.78,250.20) scale(1.6,1)" d="M 2.73 0.00 L 5.18 0.00 C 7.09 0.00 7.91 3.27 7.91 6.53 L 7.91 13.07 C 7.91 16.33 7.09 19.60 5.18 19.60 L 2.73 19.60 C 0.82 19.60 0.00 16.33 0.00 13.07 L 0.00 6.53 C 0.00 3.27 0.82 0.00 2.73 0.00 Z"/><path transform="translate(-2171.78,250.20) scale(1.6,1)" d="M 0.00 0.00 L 0.00 19.60 L 3.64 19.60 C 6.07 19.60 7.29 15.87 7.29 9.80 C 7.29 3.73 6.07 0.00 3.64 0.00 Z"/><path transform="translate(-2150.78,250.20) scale(1.6,1)" d="M 0.00 0.00 L 0.00 14.00 C 0.00 17.73 1.21 19.60 3.39 19.60 C 5.58 19.60 6.79 17.73 6.79 14.00 L 6.79 0.00"/><path transform="translate(-2129.68,250.20) scale(1.6,1)" d="M 0.00 0.00 L 0.00 19.60 L 5.91 19.60"/><path transform="translate(-2114.78,250.20) scale(1.6,1)" d="M 0.00 19.60 L 4.17 0.00 L 8.35 19.60 M 1.55 12.60 L 6.80 12.60"/><path transform="translate(-2094.78,250.20) scale(1.6,1)" d="M 0.00 0.00 L 6.72 0.00 M 3.36 0.00 L 3.36 19.60"/><path transform="translate(-2075.88,250.20) scale(1.6,1)" d="M 0.00 0.00 L 0.00 19.60"/><path transform="translate(-2067.78,250.20) scale(1.6,1)" d="M 3.01 0.00 L 5.72 0.00 C 7.82 0.00 8.72 3.27 8.72 6.53 L 8.72 13.07 C 8.72 16.33 7.82 19.60 5.72 19.60 L 3.01 19.60 C 0.90 19.60 0.00 16.33 0.00 13.07 L 0.00 6.53 C 0.00 3.27 0.90 0.00 3.01 0.00 Z"/><path transform="translate(-2044.88,250.20) scale(1.6,1)" d="M 0.00 19.60 L 0.00 0.00 L 7.04 19.60 L 7.04 0.00"/><path transform="translate(-2001.88,250.20) scale(1.6,1)" d="M 0.00 0.00 L 0.00 19.60 L 3.24 19.60 C 5.40 19.60 6.47 15.87 6.47 9.80 C 6.47 3.73 5.40 0.00 3.24 0.00 Z"/><path transform="translate(-1981.08,250.20) scale(1.6,1)" d="M 0.00 0.00 L 0.00 19.60"/><path transform="translate(-1974.88,250.20) scale(1.6,1)" d="M 7.61 3.27 C 7.00 1.12 5.78 0.00 3.96 0.00 C 1.83 0.00 0.30 1.87 0.30 4.67 C 0.30 7.47 1.52 8.68 3.96 9.61 C 6.39 10.55 7.91 11.85 7.91 14.93 C 7.91 17.73 6.39 19.60 3.96 19.60 C 1.83 19.60 0.61 18.20 0.00 15.87"/><path transform="translate(-1955.58,250.20) scale(1.6,1)" d="M 0.00 0.00 L 7.29 0.00 M 3.64 0.00 L 3.64 19.60"/><path transform="translate(-1936.88,250.20) scale(1.6,1)" d="M 2.97 0.00 L 5.63 0.00 C 7.71 0.00 8.60 3.27 8.60 6.53 L 8.60 13.07 C 8.60 16.33 7.71 19.60 5.63 19.60 L 2.97 19.60 C 0.89 19.60 0.00 16.33 0.00 13.07 L 0.00 6.53 C 0.00 3.27 0.89 0.00 2.97 0.00 Z"/><path transform="translate(-1914.78,250.20) scale(1.6,1)" d="M 0.00 19.60 L 0.00 0.00 L 4.52 0.00 C 6.22 0.00 6.79 2.33 6.79 5.13 C 6.79 7.93 6.22 10.27 4.52 10.27 L 0.00 10.27 M 3.68 10.27 L 6.79 19.60"/><path transform="translate(-1896.48,250.20) scale(1.6,1)" d="M 0.00 0.00 L 7.35 0.00 M 3.67 0.00 L 3.67 19.60"/><path transform="translate(-1877.88,250.20) scale(1.6,1)" d="M 0.00 0.00 L 0.00 19.60"/><path transform="translate(-1869.88,250.20) scale(1.6,1)" d="M 3.03 0.00 L 5.76 0.00 C 7.88 0.00 8.79 3.27 8.79 6.53 L 8.79 13.07 C 8.79 16.33 7.88 19.60 5.76 19.60 L 3.03 19.60 C 0.91 19.60 0.00 16.33 0.00 13.07 L 0.00 6.53 C 0.00 3.27 0.91 0.00 3.03 0.00 Z"/><path transform="translate(-1846.98,250.20) scale(1.6,1)" d="M 0.00 19.60 L 0.00 0.00 L 7.60 19.60 L 7.60 0.00"/><path transform="translate(-1805.88,250.20) scale(1.6,1)" d="M 4.29 -4.67 C 1.29 0.47 0.00 5.60 0.00 11.20 C 0.00 16.80 1.29 21.93 4.29 27.07"/><path transform="translate(-1791.98,250.20) scale(1.6,1)" d="M 7.54 0.00 L 7.54 19.60 M 7.54 11.20 C 6.78 8.87 5.65 7.93 3.99 7.93 C 1.51 7.93 0.00 10.27 0.00 13.81 C 0.00 17.27 1.51 19.60 3.99 19.60 C 5.65 19.60 6.78 18.67 7.54 16.33"/><path transform="translate(-1771.08,250.20) scale(1.6,1)" d="M 0.00 0.00 L 0.00 19.60 L 4.73 19.60 C 6.51 19.60 7.10 17.27 7.10 14.47 C 7.10 11.67 6.51 9.33 4.73 9.33 L 0.00 9.33 M 4.73 9.33 C 6.21 9.33 6.80 7.47 6.80 4.67 C 6.80 1.87 6.21 0.00 4.73 0.00 L 0.00 0.00"/><path transform="translate(-1751.88,250.20) scale(1.6,1)" d="M 0.00 -4.67 C 2.61 0.47 3.72 5.60 3.72 11.20 C 3.72 16.80 2.61 21.93 0.00 27.07"/></g>
<rect x="1210.00" y="1692.00" width="2.00" height="667.00"/>
<rect x="1327.00" y="1692.00" width="2.00" height="667.00"/>
<rect x="1443.00" y="1692.00" width="2.00" height="667.00"/>
<rect x="1560.00" y="1692.00" width="1.00" height="667.00"/>
<rect x="1676.00" y="1692.00" width="3.00" height="667.00"/>
<rect x="1792.00" y="1692.00" width="2.00" height="667.00"/>
<rect x="1210.00" y="1692.00" width="584.00" height="2.00"/>
<rect x="1210.00" y="1758.00" width="584.00" height="2.00"/>
<rect x="1210.00" y="1825.00" width="584.00" height="2.00"/>
<rect x="1210.00" y="1892.00" width="584.00" height="2.00"/>
<rect x="1210.00" y="1958.00" width="584.00" height="2.00"/>
<rect x="1210.00" y="2025.00" width="584.00" height="2.00"/>
<rect x="1210.00" y="2092.00" width="584.00" height="2.00"/>
<rect x="1210.00" y="2158.00" width="584.00" height="2.00"/>
<rect x="1210.00" y="2223.00" width="584.00" height="2.00"/>
<rect x="1210.00" y="2290.00" width="584.00" height="3.00"/>
<rect x="1210.00" y="2358.00" width="584.00" height="1.00"/>
<rect x="1494.00" y="2138.00" width="271.00" height="133.00" fill="#fff"/>
<path d="M1268.4,2207.2 C1270.8,2203.4 1277.7,2192.6 1282.7,2184.5 C1287.7,2176.4 1293.6,2166.0 1298.3,2158.9 C1303.0,2151.8 1306.1,2147.2 1311.1,2141.8 C1316.1,2136.4 1319.0,2134.4 1328.2,2126.2 C1337.4,2118.0 1354.7,2103.1 1366.5,2092.7 C1378.3,2082.3 1389.5,2071.9 1399.2,2063.7 C1408.9,2055.5 1417.3,2048.4 1424.8,2043.7 C1432.2,2039.0 1436.1,2038.3 1443.9,2035.2 C1451.7,2032.1 1458.3,2030.0 1471.7,2025.3 C1485.1,2020.6 1509.6,2012.0 1524.4,2006.8 C1539.2,2001.6 1545.2,1999.2 1560.8,1994.0 C1576.4,1988.8 1599.2,1981.4 1618.2,1975.5 C1637.2,1969.6 1665.6,1961.2 1675.1,1958.4" fill="none" stroke="#000" stroke-width="4.2" stroke-linecap="butt" stroke-linejoin="round"/>
<rect x="1131.00" y="1683.00" width="18.00" height="1.00"/>
<rect x="1131.00" y="1814.00" width="18.00" height="4.00"/>
<rect x="1131.00" y="1948.00" width="18.00" height="4.00"/>
<rect x="1131.00" y="2082.00" width="18.00" height="2.00"/>
<rect x="1131.00" y="2214.00" width="18.00" height="3.00"/>
<rect x="1131.00" y="2347.00" width="18.00" height="2.00"/>
<g fill="none" stroke="#000" stroke-width="2.4" stroke-linecap="square" stroke-linejoin="miter"><path transform="translate(1156.62,1672.80) scale(1.6,1)" d="M 5.94 19.90 L 5.94 0.00 L 0.00 13.74 L 7.73 13.74"/><path transform="translate(1175.82,1672.80) scale(1.6,1)" d="M 2.29 0.00 L 5.56 0.00 C 7.20 0.00 7.85 2.84 7.85 5.69 L 7.85 14.21 C 7.85 17.06 7.20 19.90 5.56 19.90 L 2.29 19.90 C 0.65 19.90 0.00 17.06 0.00 14.21 L 0.00 5.69 C 0.00 2.84 0.65 0.00 2.29 0.00 Z"/><path transform="translate(1156.62,1805.90) scale(1.6,1)" d="M 7.08 0.00 L 0.64 0.00 L 0.32 8.53 C 1.29 7.58 2.58 7.11 3.86 7.11 C 6.44 7.11 7.73 9.95 7.73 13.27 C 7.73 17.06 6.12 19.90 3.86 19.90 C 1.93 19.90 0.64 18.48 0.00 16.11"/><path transform="translate(1175.82,1805.90) scale(1.6,1)" d="M 2.29 0.00 L 5.56 0.00 C 7.20 0.00 7.85 2.84 7.85 5.69 L 7.85 14.21 C 7.85 17.06 7.20 19.90 5.56 19.90 L 2.29 19.90 C 0.65 19.90 0.00 17.06 0.00 14.21 L 0.00 5.69 C 0.00 2.84 0.65 0.00 2.29 0.00 Z"/><path transform="translate(1156.62,1939.30) scale(1.6,1)" d="M 7.08 2.84 C 6.44 0.95 5.15 0.00 4.18 0.00 C 1.61 0.00 0.00 3.79 0.00 10.42 L 0.00 13.27 C 0.00 17.06 1.61 19.90 3.86 19.90 C 6.12 19.90 7.73 17.06 7.73 13.74 C 7.73 10.42 6.12 8.05 3.86 8.05 C 1.61 8.05 0.00 10.42 0.00 13.27"/><path transform="translate(1175.82,1939.30) scale(1.6,1)" d="M 2.29 0.00 L 5.56 0.00 C 7.20 0.00 7.85 2.84 7.85 5.69 L 7.85 14.21 C 7.85 17.06 7.20 19.90 5.56 19.90 L 2.29 19.90 C 0.65 19.90 0.00 17.06 0.00 14.21 L 0.00 5.69 C 0.00 2.84 0.65 0.00 2.29 0.00 Z"/><path transform="translate(1156.62,2072.40) scale(1.6,1)" d="M 0.00 0.00 L 7.73 0.00 L 2.58 19.90"/><path transform="translate(1175.82,2072.40) scale(1.6,1)" d="M 2.29 0.00 L 5.56 0.00 C 7.20 0.00 7.85 2.84 7.85 5.69 L 7.85 14.21 C 7.85 17.06 7.20 19.90 5.56 19.90 L 2.29 19.90 C 0.65 19.90 0.00 17.06 0.00 14.21 L 0.00 5.69 C 0.00 2.84 0.65 0.00 2.29 0.00 Z"/><path transform="translate(1156.62,2204.80) scale(1.6,1)" d="M 3.86 0.00 C 1.61 0.00 0.64 2.37 0.64 4.74 C 0.64 7.11 1.93 9.00 3.86 9.00 C 5.79 9.00 7.08 7.11 7.08 4.74 C 7.08 2.37 6.12 0.00 3.86 0.00 Z M 3.86 9.00 C 1.61 9.00 0.00 11.37 0.00 14.69 C 0.00 17.53 1.61 19.90 3.86 19.90 C 6.12 19.90 7.73 17.53 7.73 14.69 C 7.73 11.37 6.12 9.00 3.86 9.00 Z"/><path transform="translate(1175.82,2204.80) scale(1.6,1)" d="M 2.29 0.00 L 5.56 0.00 C 7.20 0.00 7.85 2.84 7.85 5.69 L 7.85 14.21 C 7.85 17.06 7.20 19.90 5.56 19.90 L 2.29 19.90 C 0.65 19.90 0.00 17.06 0.00 14.21 L 0.00 5.69 C 0.00 2.84 0.65 0.00 2.29 0.00 Z"/><path transform="translate(1156.62,2337.60) scale(1.6,1)" d="M 0.64 17.06 C 1.29 18.95 2.58 19.90 3.54 19.90 C 6.12 19.90 7.73 16.11 7.73 9.48 L 7.73 6.63 C 7.73 2.84 6.12 0.00 3.86 0.00 C 1.61 0.00 0.00 2.84 0.00 6.16 C 0.00 9.48 1.61 11.85 3.86 11.85 C 6.12 11.85 7.73 9.48 7.73 6.63"/><path transform="translate(1175.82,2337.60) scale(1.6,1)" d="M 2.29 0.00 L 5.56 0.00 C 7.20 0.00 7.85 2.84 7.85 5.69 L 7.85 14.21 C 7.85 17.06 7.20 19.90 5.56 19.90 L 2.29 19.90 C 0.65 19.90 0.00 17.06 0.00 14.21 L 0.00 5.69 C 0.00 2.84 0.65 0.00 2.29 0.00 Z"/><path transform="translate(1198.02,2371.40) scale(1.6,1)" d="M 2.13 0.00 L 5.16 0.00 C 6.68 0.00 7.29 2.89 7.29 5.77 L 7.29 14.43 C 7.29 17.31 6.68 20.20 5.16 20.20 L 2.13 20.20 C 0.61 20.20 0.00 17.31 0.00 14.43 L 0.00 5.77 C 0.00 2.89 0.61 0.00 2.13 0.00 Z"/><path transform="translate(1323.42,2371.40) scale(1.6,1)" d="M 0.00 3.85 L 2.47 3.85 M 2.47 0.00 L 2.47 20.20"/><path transform="translate(1434.42,2371.40) scale(1.6,1)" d="M 0.00 4.81 C 0.00 1.92 1.18 0.00 3.55 0.00 C 5.92 0.00 7.10 1.92 7.10 4.81 C 7.10 7.70 5.92 9.62 4.14 12.50 L 0.00 20.20 L 7.10 20.20"/><path transform="translate(1549.22,2371.40) scale(1.6,1)" d="M 0.66 0.00 L 8.54 0.00 L 3.94 7.70 C 6.57 7.70 8.54 10.10 8.54 13.95 C 8.54 17.80 6.57 20.20 3.94 20.20 C 1.97 20.20 0.66 18.76 0.00 16.35"/><path transform="translate(1668.02,2371.40) scale(1.6,1)" d="M 5.94 20.20 L 5.94 0.00 L 0.00 13.95 L 7.72 13.95"/><path transform="translate(1788.92,2371.40) scale(1.6,1)" d="M 7.02 0.00 L 0.64 0.00 L 0.32 8.66 C 1.28 7.70 2.55 7.21 3.83 7.21 C 6.39 7.21 7.66 10.10 7.66 13.47 C 7.66 17.31 6.07 20.20 3.83 20.20 C 1.92 20.20 0.64 18.76 0.00 16.35"/><path transform="translate(1325.12,2421.00) scale(1.6,1)" d="M 0.00 20.70 L 0.00 0.00 L 5.07 0.00 C 6.97 0.00 7.60 2.46 7.60 5.42 C 7.60 8.38 6.97 10.84 5.07 10.84 L 0.00 10.84"/><path transform="translate(1343.22,2421.00) scale(1.6,1)" d="M 3.18 0.00 L 6.04 0.00 C 8.27 0.00 9.22 3.45 9.22 6.90 L 9.22 13.80 C 9.22 17.25 8.27 20.70 6.04 20.70 L 3.18 20.70 C 0.95 20.70 0.00 17.25 0.00 13.80 L 0.00 6.90 C 0.00 3.45 0.95 0.00 3.18 0.00 Z"/><path transform="translate(1363.74,2421.00) scale(1.2,1)" d="M 0.00 0.00 L 4.25 20.70 L 8.92 0.00 L 13.60 20.70 L 17.85 0.00"/><path transform="translate(1393.22,2421.00) scale(1.6,1)" d="M 6.47 0.00 L 0.00 0.00 L 0.00 20.70 L 6.47 20.70 M 0.00 9.86 L 4.41 9.86"/><path transform="translate(1412.22,2421.00) scale(1.6,1)" d="M 0.00 20.70 L 0.00 0.00 L 4.82 0.00 C 6.62 0.00 7.22 2.46 7.22 5.42 C 7.22 8.38 6.62 10.84 4.82 10.84 L 0.00 10.84 M 3.91 10.84 L 7.22 20.70"/><path transform="translate(1451.22,2421.00) scale(1.6,1)" d="M 3.03 0.00 L 5.76 0.00 C 7.88 0.00 8.79 3.45 8.79 6.90 L 8.79 13.80 C 8.79 17.25 7.88 20.70 5.76 20.70 L 3.03 20.70 C 0.91 20.70 0.00 17.25 0.00 13.80 L 0.00 6.90 C 0.00 3.45 0.91 0.00 3.03 0.00 Z"/><path transform="translate(1474.22,2421.00) scale(1.6,1)" d="M 0.00 0.00 L 0.00 14.79 C 0.00 18.73 1.49 20.70 4.17 20.70 C 6.86 20.70 8.35 18.73 8.35 14.79 L 8.35 0.00"/><path transform="translate(1493.02,2421.00) scale(1.6,1)" d="M 0.00 0.00 L 7.60 0.00 M 3.80 0.00 L 3.80 20.70"/><path transform="translate(1512.02,2421.00) scale(1.6,1)" d="M 0.00 20.70 L 0.00 0.00 L 5.27 0.00 C 7.25 0.00 7.91 2.46 7.91 5.42 C 7.91 8.38 7.25 10.84 5.27 10.84 L 0.00 10.84"/><path transform="translate(1532.12,2421.00) scale(1.6,1)" d="M 0.00 0.00 L 0.00 14.79 C 0.00 18.73 1.42 20.70 3.99 20.70 C 6.55 20.70 7.97 18.73 7.97 14.79 L 7.97 0.00"/><path transform="translate(1552.22,2421.00) scale(1.6,1)" d="M 0.00 0.00 L 7.60 0.00 M 3.80 0.00 L 3.80 20.70"/><path transform="translate(1591.92,2421.00) scale(1.6,1)" d="M 3.54 -4.93 C 1.06 0.49 0.00 5.91 0.00 11.83 C 0.00 17.74 1.06 23.16 3.54 28.59"/><path transform="translate(1603.94,2421.00) scale(1.2,1)" d="M 0.00 0.00 L 4.13 20.70 L 8.67 0.00 L 13.22 20.70 L 17.35 0.00"/><path transform="translate(1631.62,2421.00) scale(1.6,1)" d="M 0.00 -4.93 C 2.48 0.49 3.54 5.91 3.54 11.83 C 3.54 17.74 2.48 23.16 0.00 28.59"/></g>
<g transform="rotate(-90)" fill="none" stroke="#000" stroke-width="2.4" stroke-linecap="square" stroke-linejoin="miter"><path transform="translate(-2303.88,1074.50) scale(1.6,1)" d="M 0.00 0.00 L 0.00 19.60"/><path transform="translate(-2293.98,1074.50) scale(1.6,1)" d="M 0.00 19.60 L 0.00 0.00 L 6.97 19.60 L 6.97 0.00"/><path transform="translate(-2273.88,1074.50) scale(1.6,1)" d="M 0.00 0.00 L 5.60 0.00 M 2.80 0.00 L 2.80 19.60"/><path transform="translate(-2255.88,1074.50) scale(1.6,1)" d="M 6.23 0.00 L 0.00 0.00 L 0.00 19.60 L 6.23 19.60 M 0.00 9.33 L 4.24 9.33"/><path transform="translate(-2236.98,1074.50) scale(1.6,1)" d="M 0.00 19.60 L 0.00 0.00 L 4.57 0.00 C 6.28 0.00 6.85 2.33 6.85 5.13 C 6.85 7.93 6.28 10.27 4.57 10.27 L 0.00 10.27 M 3.71 10.27 L 6.85 19.60"/><path transform="translate(-2217.58,1074.50) scale(1.6,1)" d="M 0.00 19.60 L 0.00 0.00 L 4.52 10.27 L 9.04 0.00 L 9.04 19.60"/><path transform="translate(-2193.78,1074.50) scale(1.6,1)" d="M 2.73 0.00 L 5.18 0.00 C 7.09 0.00 7.91 3.27 7.91 6.53 L 7.91 13.07 C 7.91 16.33 7.09 19.60 5.18 19.60 L 2.73 19.60 C 0.82 19.60 0.00 16.33 0.00 13.07 L 0.00 6.53 C 0.00 3.27 0.82 0.00 2.73 0.00 Z"/><path transform="translate(-2171.78,1074.50) scale(1.6,1)" d="M 0.00 0.00 L 0.00 19.60 L 3.64 19.60 C 6.07 19.60 7.29 15.87 7.29 9.80 C 7.29 3.73 6.07 0.00 3.64 0.00 Z"/><path transform="translate(-2150.78,1074.50) scale(1.6,1)" d="M 0.00 0.00 L 0.00 14.00 C 0.00 17.73 1.21 19.60 3.39 19.60 C 5.58 19.60 6.79 17.73 6.79 14.00 L 6.79 0.00"/><path transform="translate(-2129.68,1074.50) scale(1.6,1)" d="M 0.00 0.00 L 0.00 19.60 L 5.91 19.60"/><path transform="translate(-2114.78,1074.50) scale(1.6,1)" d="M 0.00 19.60 L 4.17 0.00 L 8.35 19.60 M 1.55 12.60 L 6.80 12.60"/><path transform="translate(-2094.78,1074.50) scale(1.6,1)" d="M 0.00 0.00 L 6.72 0.00 M 3.36 0.00 L 3.36 19.60"/><path transform="translate(-2075.88,1074.50) scale(1.6,1)" d="M 0.00 0.00 L 0.00 19.60"/><path transform="translate(-2067.78,1074.50) scale(1.6,1)" d="M 3.01 0.00 L 5.72 0.00 C 7.82 0.00 8.72 3.27 8.72 6.53 L 8.72 13.07 C 8.72 16.33 7.82 19.60 5.72 19.60 L 3.01 19.60 C 0.90 19.60 0.00 16.33 0.00 13.07 L 0.00 6.53 C 0.00 3.27 0.90 0.00 3.01 0.00 Z"/><path transform="translate(-2044.88,1074.50) scale(1.6,1)" d="M 0.00 19.60 L 0.00 0.00 L 7.04 19.60 L 7.04 0.00"/><path transform="translate(-2001.88,1074.50) scale(1.6,1)" d="M 0.00 0.00 L 0.00 19.60 L 3.24 19.60 C 5.40 19.60 6.47 15.87 6.47 9.80 C 6.47 3.73 5.40 0.00 3.24 0.00 Z"/><path transform="translate(-1981.08,1074.50) scale(1.6,1)" d="M 0.00 0.00 L 0.00 19.60"/><path transform="translate(-1974.88,1074.50) scale(1.6,1)" d="M 7.61 3.27 C 7.00 1.12 5.78 0.00 3.96 0.00 C 1.83 0.00 0.30 1.87 0.30 4.67 C 0.30 7.47 1.52 8.68 3.96 9.61 C 6.39 10.55 7.91 11.85 7.91 14.93 C 7.91 17.73 6.39 19.60 3.96 19.60 C 1.83 19.60 0.61 18.20 0.00 15.87"/><path transform="translate(-1955.58,1074.50) scale(1.6,1)" d="M 0.00 0.00 L 7.29 0.00 M 3.64 0.00 L 3.64 19.60"/><path transform="translate(-1936.88,1074.50) scale(1.6,1)" d="M 2.97 0.00 L 5.63 0.00 C 7.71 0.00 8.60 3.27 8.60 6.53 L 8.60 13.07 C 8.60 16.33 7.71 19.60 5.63 19.60 L 2.97 19.60 C 0.89 19.60 0.00 16.33 0.00 13.07 L 0.00 6.53 C 0.00 3.27 0.89 0.00 2.97 0.00 Z"/><path transform="translate(-1914.78,1074.50) scale(1.6,1)" d="M 0.00 19.60 L 0.00 0.00 L 4.52 0.00 C 6.22 0.00 6.79 2.33 6.79 5.13 C 6.79 7.93 6.22 10.27 4.52 10.27 L 0.00 10.27 M 3.68 10.27 L 6.79 19.60"/><path transform="translate(-1896.48,1074.50) scale(1.6,1)" d="M 0.00 0.00 L 7.35 0.00 M 3.67 0.00 L 3.67 19.60"/><path transform="translate(-1877.88,1074.50) scale(1.6,1)" d="M 0.00 0.00 L 0.00 19.60"/><path transform="translate(-1869.88,1074.50) scale(1.6,1)" d="M 3.03 0.00 L 5.76 0.00 C 7.88 0.00 8.79 3.27 8.79 6.53 L 8.79 13.07 C 8.79 16.33 7.88 19.60 5.76 19.60 L 3.03 19.60 C 0.91 19.60 0.00 16.33 0.00 13.07 L 0.00 6.53 C 0.00 3.27 0.91 0.00 3.03 0.00 Z"/><path transform="translate(-1846.98,1074.50) scale(1.6,1)" d="M 0.00 19.60 L 0.00 0.00 L 7.60 19.60 L 7.60 0.00"/><path transform="translate(-1805.88,1074.50) scale(1.6,1)" d="M 4.29 -4.67 C 1.29 0.47 0.00 5.60 0.00 11.20 C 0.00 16.80 1.29 21.93 4.29 27.07"/><path transform="translate(-1791.98,1074.50) scale(1.6,1)" d="M 7.54 0.00 L 7.54 19.60 M 7.54 11.20 C 6.78 8.87 5.65 7.93 3.99 7.93 C 1.51 7.93 0.00 10.27 0.00 13.81 C 0.00 17.27 1.51 19.60 3.99 19.60 C 5.65 19.60 6.78 18.67 7.54 16.33"/><path transform="translate(-1771.08,1074.50) scale(1.6,1)" d="M 0.00 0.00 L 0.00 19.60 L 4.73 19.60 C 6.51 19.60 7.10 17.27 7.10 14.47 C 7.10 11.67 6.51 9.33 4.73 9.33 L 0.00 9.33 M 4.73 9.33 C 6.21 9.33 6.80 7.47 6.80 4.67 C 6.80 1.87 6.21 0.00 4.73 0.00 L 0.00 0.00"/><path transform="translate(-1751.88,1074.50) scale(1.6,1)" d="M 0.00 -4.67 C 2.61 0.47 3.72 5.60 3.72 11.20 C 3.72 16.80 2.61 21.93 0.00 27.07"/></g>
<text transform="translate(654.09,2089.90) scale(1,1.0436)" font-size="33" stroke="#000" stroke-width="0.6">F</text>
<rect x="685.80" y="2076.50" width="18.90" height="1.60"/>
<rect x="685.80" y="2082.90" width="18.90" height="2.00"/>
<text transform="translate(717.15,2089.90) scale(1,1.0436)" font-size="33" stroke="#000" stroke-width="0.6">860</text>
<text transform="translate(786.59,2089.90) scale(1,1.0436)" font-size="33" letter-spacing="1.965" stroke="#000" stroke-width="0.6">MHz</text>
<text transform="translate(655.25,2132.90) scale(1,1.0436)" font-size="33" stroke="#000" stroke-width="0.6">V</text>
<text transform="translate(675.81,2136.30) scale(1,1.0436)" font-size="26.4" stroke="#000" stroke-width="0.6">CE</text>
<rect x="725.00" y="2119.50" width="19.00" height="1.60"/>
<rect x="725.00" y="2125.90" width="19.00" height="2.00"/>
<text transform="translate(755.26,2132.90) scale(1,1.0436)" font-size="33" stroke="#000" stroke-width="0.6">25</text>
<text transform="translate(806.85,2132.90) scale(1,1.0436)" font-size="33" stroke="#000" stroke-width="0.6">V</text>
<text transform="translate(654.35,2174.50) scale(1,1.0436)" font-size="33" stroke="#000" stroke-width="0.6">I</text>
<text transform="translate(663.16,2177.90) scale(1,1.0436)" font-size="26.4" stroke="#000" stroke-width="0.6">C</text>
<rect x="693.50" y="2161.10" width="19.00" height="1.60"/>
<rect x="693.50" y="2167.50" width="19.00" height="2.00"/>
<text transform="translate(723.97,2174.50) scale(1,1.0436)" font-size="33" letter-spacing="1.182" stroke="#000" stroke-width="0.6">850</text>
<text transform="translate(795.69,2174.50) scale(1,1.0436)" font-size="33" stroke="#000" stroke-width="0.6">mA</text>
<text transform="translate(1494.59,2169.90) scale(1,1.0436)" font-size="33" stroke="#000" stroke-width="0.6">F</text>
<rect x="1526.30" y="2156.50" width="18.90" height="1.60"/>
<rect x="1526.30" y="2162.90" width="18.90" height="2.00"/>
<text transform="translate(1557.65,2169.90) scale(1,1.0436)" font-size="33" stroke="#000" stroke-width="0.6">860</text>
<text transform="translate(1627.09,2169.90) scale(1,1.0436)" font-size="33" letter-spacing="1.965" stroke="#000" stroke-width="0.6">MHz</text>
<text transform="translate(1495.75,2212.90) scale(1,1.0436)" font-size="33" stroke="#000" stroke-width="0.6">V</text>
<text transform="translate(1516.31,2216.30) scale(1,1.0436)" font-size="26.4" stroke="#000" stroke-width="0.6">CE</text>
<rect x="1565.50" y="2199.50" width="19.00" height="1.60"/>
<rect x="1565.50" y="2205.90" width="19.00" height="2.00"/>
<text transform="translate(1595.76,2212.90) scale(1,1.0436)" font-size="33" stroke="#000" stroke-width="0.6">25</text>
<text transform="translate(1647.35,2212.90) scale(1,1.0436)" font-size="33" stroke="#000" stroke-width="0.6">V</text>
<text transform="translate(1494.85,2254.50) scale(1,1.0436)" font-size="33" stroke="#000" stroke-width="0.6">I</text>
<text transform="translate(1503.66,2257.90) scale(1,1.0436)" font-size="26.4" stroke="#000" stroke-width="0.6">C</text>
<rect x="1534.00" y="2241.10" width="19.00" height="1.60"/>
<rect x="1534.00" y="2247.50" width="19.00" height="2.00"/>
<text transform="translate(1564.47,2254.50) scale(1,1.0436)" font-size="33" letter-spacing="1.182" stroke="#000" stroke-width="0.6">850</text>
<text transform="translate(1636.19,2254.50) scale(1,1.0436)" font-size="33" stroke="#000" stroke-width="0.6">mA</text>
<text transform="translate(229.62,2626.20) scale(1,1.0436)" font-size="29" stroke="#000" stroke-width="0.6">2/5</text>
<rect x="229.00" y="2639.00" width="603.00" height="2.00"/>
<rect x="1225.00" y="2639.00" width="604.00" height="2.00"/>
<path d="M855.9,2616 L927,2616 L923.8,2624.9 L863,2624.9 C857,2625.5 852,2629 852,2633.4 L852,2640.5 L867.7,2658.3 L867.7,2662.6 L865.9,2664 L836,2664 Z"/>
<path d="M864.8,2634.1 L892.9,2634.1 L877.2,2671.8 L869.1,2671.8 C874,2670 877.6,2667 877.6,2664 L878,2656.2 L862,2639.8 L862,2635.6 Z"/>
<path d="M903.9,2634.1 L918.8,2634.1 L901.8,2671.8 L887.9,2671.8 Z"/>
<circle cx="912.9" cy="2668.3" r="3.9"/>
<text transform="translate(940.67,2644.11) scale(0.8128,1)" font-size="39.4" font-weight="bold" stroke="#000" stroke-width="4.4" stroke-linejoin="miter" letter-spacing="3.4">SGS-THOMSON</text>
<text transform="translate(939.86,2672.23) scale(0.8341,1)" font-size="28.6" font-weight="bold" stroke="#000" stroke-width="1.1" letter-spacing="1.6" style="fill:#fff">MICROELECTRONICS</text>
</svg>
</body></html>
